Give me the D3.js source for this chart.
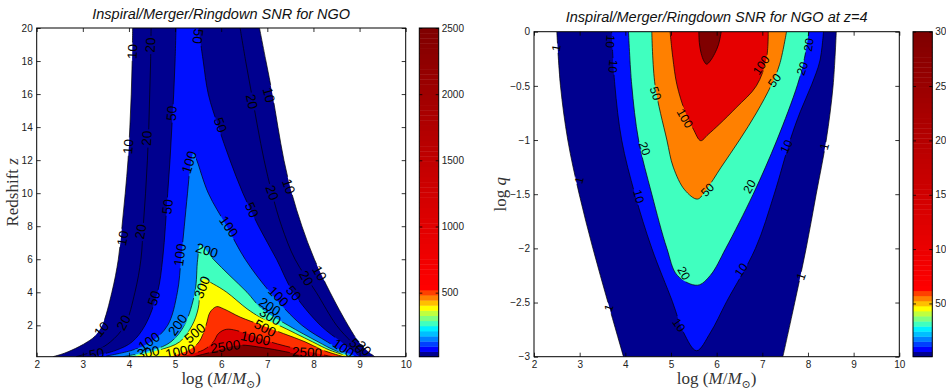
<!DOCTYPE html>
<html>
<head>
<meta charset="utf-8">
<script src="https://cdn.jsdelivr.net/npm/d3@7"></script>
<style>
  body { margin: 0; background: #fff; }
  svg { display: block; }
</style>
</head>
<body>
<svg id="chart" width="946" height="389"></svg>
<script>
// ---- tick labels
const massTicks = [2, 3, 4, 5, 6, 7, 8, 9, 10];
const zTicks = [2, 4, 6, 8, 10, 12, 14, 16, 18, 20];
const qTicks = [0, -0.5, -1, -1.5, -2, -2.5, -3];
const snrBarTicks = [500, 1000, 1500, 2000, 2500];
const qBarTicks = [50, 100, 150, 200, 250, 300];

// ---- left panel: SNR contours in (log M, z), each a list of segments
const snrC10 = [
  [[2.35, 0.1], [2.6, 0.31], [2.92, 0.71], [3.1, 1], [3.25, 1.31], [3.42, 2], [3.63, 4], [3.77, 6], [3.85, 8], [3.92, 10], [3.98, 12], [4.02, 14], [4.05, 16], [4.07, 18], [4.08, 20]],
  [[6.83, 20], [6.97, 18], [7.11, 16], [7.23, 14], [7.36, 12], [7.53, 10], [7.75, 8], [8.02, 6], [8.36, 4], [8.75, 2], [8.98, 1], [9.15, 0.5], [9.33, 0.1]]
];
const snrC20 = [
  [[2.85, 0.1], [3.31, 0.5], [3.6, 1], [3.91, 2], [4.13, 4], [4.26, 6], [4.31, 8], [4.36, 10], [4.4, 12], [4.43, 14], [4.45, 16], [4.47, 18], [4.48, 20]],
  [[6.41, 20], [6.53, 18], [6.66, 16], [6.79, 14], [6.93, 12], [7.1, 10], [7.31, 8], [7.6, 6], [8.06, 4], [8.5, 2], [8.82, 1], [8.99, 0.5], [9.17, 0.1]]
];
const snrC50 = [
  [[3.2, 0.1], [3.73, 0.5], [4.07, 1], [4.35, 2], [4.62, 4], [4.73, 6], [4.79, 8], [4.84, 10], [4.89, 12], [4.93, 14], [4.97, 16], [5.0, 18], [5.02, 20]],
  [[5.51, 20], [5.61, 18], [5.72, 16], [5.94, 14], [6.19, 12], [6.47, 10], [6.81, 8], [7.2, 6], [7.56, 4], [8.15, 2], [8.6, 1], [8.83, 0.5], [9.02, 0.1]]
];
const snrC100 = [
  [[3.43, 0.1], [4.08, 0.5], [4.48, 1], [4.84, 2], [5.05, 4], [5.13, 6], [5.2, 8], [5.27, 10], [5.33, 11.6], [5.4, 12.45], [5.47, 12], [5.72, 10], [6.12, 8], [6.52, 6], [7.06, 4], [7.75, 2], [8.3, 1], [8.6, 0.5], [8.94, 0.1]]
];
const snrC200 = [
  [[3.87, 0.1], [4.52, 0.5], [4.91, 1], [5.2, 2], [5.43, 4], [5.49, 6], [5.55, 6.86], [5.83, 6], [6.19, 5], [6.56, 4], [6.88, 3], [7.45, 2], [8.1, 1], [8.45, 0.5], [8.87, 0.1]]
];
const snrC300 = [
  [[4.08, 0.1], [4.66, 0.5], [5.1, 1], [5.37, 2], [5.5, 3], [5.54, 4], [5.6, 4.79], [5.83, 4.5], [6.12, 4], [6.56, 3], [6.84, 2.5], [7.25, 2], [7.98, 1], [8.35, 0.5], [8.8, 0.1]]
];
const snrC500 = [
  [[4.9, 0.1], [5.3, 0.5], [5.52, 1], [5.67, 2], [5.76, 2.8], [5.9, 3.13], [6.05, 3], [6.41, 2.5], [6.88, 2], [7.35, 1.5], [7.82, 1], [8.2, 0.5], [8.65, 0.1]]
];
const snrC1000 = [
  [[5.1, 0.1], [5.61, 0.5], [5.83, 1], [5.94, 1.5], [6.12, 1.76], [6.56, 1.5], [7.06, 1], [7.75, 0.5], [8.4, 0.1]]
];
const snrC2500 = [
  [[5.4, 0.1], [5.75, 0.35], [6.05, 0.6], [6.4, 0.8], [6.9, 0.65], [7.4, 0.4], [7.9, 0.1]]
];
const snrContours = [snrC10, snrC20, snrC50, snrC100, snrC200, snrC300, snrC500, snrC1000, snrC2500];

// contour labels: [text, log M, z, angle]
const snrLabels = [
  ['10', 4.08, 18.57, -88], ['20', 4.47, 18.97, -88], ['50', 5.49, 19.5, 97],
  ['10', 3.99, 12.82, -85], ['20', 4.39, 13.32, -87], ['50', 4.93, 14.83, -85],
  ['10', 3.87, 7.27, -80], ['20', 4.26, 7.67, -80], ['50', 4.84, 9.18, -83],
  ['100', 5.31, 11.87, -72], ['100', 5.11, 6.26, -82], ['200', 5.69, 6.52, 18],
  ['300', 5.59, 4.3, -68], ['50', 4.55, 3.64, -72], ['10', 3.41, 1.76, -50],
  ['20', 3.89, 2.16, -62], ['100', 4.44, 1.01, -35], ['200', 5.06, 2.02, -55],
  ['500', 5.43, 1.52, -40], ['50', 3.3, 0.27, -10], ['1000', 5.11, 0.41, -12],
  ['300', 4.42, 0.35, -10], ['2500', 6.09, 0.71, -8], ['1000', 6.74, 1.21, 12],
  ['500', 6.95, 1.82, 28], ['300', 7.06, 2.53, 32], ['200', 7.05, 3.13, 32],
  ['100', 7.24, 3.74, 45], ['50', 7.57, 3.94, 50], ['20', 7.84, 4.85, 60],
  ['10', 8.13, 5.15, 60], ['100', 6.16, 7.97, 55], ['50', 6.66, 8.98, 65],
  ['20', 7.1, 10.03, 70], ['10', 7.46, 10.4, 70], ['50', 5.98, 14.13, 70],
  ['20', 6.66, 15.54, 78], ['10', 7.03, 15.94, 75], ['2500', 7.86, 0.35, 3],
  ['100', 8.65, 0.61, 35], ['50', 8.94, 0.75, 45], ['20', 9.09, 0.6, 45]
];

// ---- right panel: SNR contours at z=4 in (log M, log q)
const qC1 = [
  [[2.5, 0], [2.58, -0.5], [2.74, -1], [2.99, -1.5], [3.29, -2], [3.62, -2.5], [3.96, -3]],
  [[7.45, -3], [7.71, -2.5], [7.96, -2], [8.18, -1.5], [8.4, -1], [8.55, -0.5], [8.62, 0]]
];
const qC10 = [
  [[3.7, 0], [3.77, -0.49], [3.92, -1], [4.21, -1.5], [4.58, -2], [5.03, -2.49], [5.28, -2.78], [5.56, -2.945], [5.86, -2.78], [6.22, -2.49], [6.85, -2], [7.26, -1.5], [7.61, -1], [7.83, -0.74], [8.08, -0.49], [8.26, -0.27], [8.34, 0]]
];
const qC20 = [
  [[4.07, 0], [4.14, -0.49], [4.29, -1], [4.58, -1.5], [4.91, -2], [5.14, -2.25], [5.58, -2.34], [5.86, -2.25], [6.2, -2], [6.8, -1.5], [7.32, -1], [7.77, -0.49], [7.92, -0.25], [8.02, 0]]
];
const qC50 = [
  [[4.58, 0], [4.65, -0.49], [4.91, -1], [5.05, -1.25], [5.3, -1.46], [5.58, -1.545], [5.77, -1.46], [6.1, -1.25], [6.5, -1], [6.87, -0.75], [7.2, -0.49], [7.38, -0.3], [7.53, 0]]
];
const qC100 = [
  [[4.98, 0], [5.04, -0.24], [5.13, -0.49], [5.31, -0.74], [5.49, -0.9], [5.65, -1.006], [5.81, -0.95], [6.07, -0.85], [6.43, -0.7], [6.87, -0.5], [7.09, -0.25], [7.13, 0]]
];
const qCTop = [
  [[5.61, 0], [5.62, -0.1], [5.66, -0.2], [5.72, -0.27], [5.78, -0.3], [5.86, -0.27], [5.96, -0.2], [6.04, -0.12], [6.1, 0]]
];
const qContours = [qC1, qC10, qC20, qC50, qC100, qCTop];

const qLabels = [
  ['1', 2.49, -0.15, -80], ['1', 2.99, -1.37, -75], ['1', 3.64, -2.55, -70],
  ['1', 8.36, -1.06, -75], ['1', 7.85, -2.26, -70],
  ['10', 3.67, -0.09, 95], ['10', 3.73, -0.32, 95], ['50', 4.66, -0.57, 72],
  ['100', 5.3, -0.8, 60], ['20', 4.42, -1.08, 70], ['10', 4.29, -1.52, 75],
  ['50', 5.8, -1.46, -45], ['20', 5.28, -2.23, 60], ['10', 5.17, -2.71, 55],
  ['100', 6.98, -0.31, -55], ['50', 7.27, -0.45, -55], ['20', 8.02, -0.12, -80],
  ['20', 7.88, -0.34, -70], ['10', 7.53, -1.06, -65], ['20', 6.72, -1.43, -60],
  ['10', 6.54, -2.2, -55]
];

// ---- styles
const sans = '"Liberation Sans", Arial, sans-serif';
const serif = '"Liberation Serif", "DejaVu Serif", serif';
const snrFills = ['#00008f', '#00008f', '#0010ff', '#0080ff', '#40ffbf', '#ffff00', '#ff3000', '#dc0000', '#800000'];
const qFills = ['#00008f', '#0010ff', '#40ffbf', '#ff8000', '#e60000', '#800000'];
const cmapLow = ['#00008f', '#0000ff', '#0040ff', '#0080ff', '#00bfff', '#00f0ff', '#40ffbf', '#80ff80', '#bfff40', '#ffff00', '#ffbf00', '#ff8000', '#ff4000'];
const cmap = cmapLow.concat(d3.range(51).map(i => d3.interpolateRgb('#ff0000', '#800000')(i / 50)));

const svg = d3.select('#chart');
const defs = svg.append('defs');

function styleAxis(g, showText) {
  g.select('.domain').remove();
  g.selectAll('line').attr('stroke', '#000').attr('stroke-width', 0.8);
  g.selectAll('text')
    .attr('font-family', sans)
    .attr('font-size', 10).attr('fill', '#222');
  if (!showText) g.selectAll('text').remove();
}

function drawPanel(cfg) {
  const x = d3.scaleLinear().domain(cfg.xDomain).range([cfg.left, cfg.right]);
  const y = d3.scaleLinear().domain(cfg.yDomain).range([cfg.bottom, cfg.top]);
  const line = d3.line().x(d => x(d[0])).y(d => y(d[1])).curve(d3.curveCatmullRom.alpha(0.5));

  defs.append('clipPath').attr('id', cfg.id + '-clip')
    .append('rect').attr('x', cfg.left).attr('y', cfg.top)
    .attr('width', cfg.right - cfg.left).attr('height', cfg.bottom - cfg.top);

  // mask that breaks the contour lines under their labels
  const mask = defs.append('mask').attr('id', cfg.id + '-mask')
    .attr('maskUnits', 'userSpaceOnUse').attr('x', 0).attr('y', 0).attr('width', 946).attr('height', 389);
  mask.append('rect').attr('width', 946).attr('height', 389).attr('fill', '#fff');
  mask.selectAll('rect.hole').data(cfg.labels).join('rect')
    .attr('class', 'hole')
    .attr('x', d => -d[0].length * cfg.labelSize * 0.3 - 1)
    .attr('y', -cfg.labelSize * 0.4)
    .attr('width', d => d[0].length * cfg.labelSize * 0.6 + 2)
    .attr('height', cfg.labelSize * 0.8)
    .attr('transform', d => `translate(${x(d[1])},${y(d[2])}) rotate(${d[3]})`)
    .attr('fill', '#000');

  const plot = svg.append('g').attr('clip-path', `url(#${cfg.id}-clip)`);

  plot.selectAll('path.fill').data(cfg.contours).join('path')
    .attr('class', 'fill')
    .attr('d', segs => segs.map((s, i) => { const p = line(s); return i ? 'L' + p.slice(1) : p; }).join('') + 'Z')
    .attr('fill', (d, i) => cfg.fills[i]);

  plot.append('g').attr('mask', `url(#${cfg.id}-mask)`)
    .selectAll('path').data(cfg.contours.flat()).join('path')
    .attr('d', line)
    .attr('fill', 'none').attr('stroke', '#000').attr('stroke-width', 0.7);

  plot.selectAll('text.clabel').data(cfg.labels).join('text')
    .attr('class', 'clabel')
    .attr('transform', d => `translate(${x(d[1])},${y(d[2])}) rotate(${d[3]})`)
    .attr('text-anchor', 'middle').attr('dominant-baseline', 'central')
    .attr('font-family', sans)
    .attr('font-size', cfg.labelSize).attr('fill', '#000')
    .text(d => d[0]);

  // axes with inward ticks on all sides
  svg.append('g').attr('transform', `translate(0,${cfg.bottom})`)
    .call(d3.axisBottom(x).tickValues(massTicks).tickSize(-4).tickPadding(4))
    .call(g => styleAxis(g, true));
  svg.append('g').attr('transform', `translate(0,${cfg.top})`)
    .call(d3.axisTop(x).tickValues(massTicks).tickSize(-4))
    .call(g => styleAxis(g, false));
  svg.append('g').attr('transform', `translate(${cfg.left},0)`)
    .call(d3.axisLeft(y).tickValues(cfg.yTicks).tickSize(-4).tickPadding(4).tickFormat(d3.format('~g')))
    .call(g => styleAxis(g, true));
  svg.append('g').attr('transform', `translate(${cfg.right},0)`)
    .call(d3.axisRight(y).tickValues(cfg.yTicks).tickSize(-4))
    .call(g => styleAxis(g, false));

  svg.append('rect')
    .attr('x', cfg.left).attr('y', cfg.top)
    .attr('width', cfg.right - cfg.left).attr('height', cfg.bottom - cfg.top)
    .attr('fill', 'none').attr('stroke', '#000').attr('stroke-width', 1);

  // title
  svg.append('text')
    .attr('x', (cfg.left + cfg.right) / 2).attr('y', cfg.titleY)
    .attr('text-anchor', 'middle').attr('font-family', sans)
    .attr('font-size', 14.5).attr('font-style', 'italic')
    .attr('fill', '#111').text(cfg.title);

  // x label: log (M/M_sun)
  const xl = svg.append('text')
    .attr('x', (cfg.left + cfg.right) / 2).attr('y', 384)
    .attr('text-anchor', 'middle').attr('font-size', 17)
    .attr('font-family', serif).attr('fill', '#333');
  xl.append('tspan').text('log (');
  xl.append('tspan').attr('font-style', 'italic').text('M');
  xl.append('tspan').text('/');
  xl.append('tspan').attr('font-style', 'italic').text('M');
  xl.append('tspan').attr('font-size', 11).attr('dy', 4).text('⊙');
  xl.append('tspan').attr('dy', -4).text(')');

  // y label
  const yl = svg.append('text')
    .attr('transform', `translate(${cfg.yLabelX},${(cfg.top + cfg.bottom) / 2}) rotate(-90)`)
    .attr('text-anchor', 'middle').attr('font-size', 17)
    .attr('font-family', serif).attr('fill', '#333');
  yl.append('tspan').text(cfg.yLabel[0]);
  yl.append('tspan').attr('font-style', 'italic').text(cfg.yLabel[1]);

  // colorbar
  const cy = d3.scaleLinear().domain(cfg.barDomain).range([cfg.bottom, cfg.top]);
  const band = d3.scaleBand().domain(d3.range(cmap.length)).range([cfg.bottom, cfg.top]);
  svg.append('g').selectAll('rect').data(cmap).join('rect')
    .attr('x', cfg.barLeft).attr('width', cfg.barRight - cfg.barLeft)
    .attr('y', (d, i) => band(i))
    .attr('height', band.bandwidth() + 0.4)
    .attr('fill', d => d);
  svg.append('g').attr('transform', `translate(${cfg.barRight},0)`)
    .call(d3.axisRight(cy).tickValues(cfg.barTicks).tickSize(-3).tickPadding(3).tickFormat(d3.format('d')))
    .call(g => styleAxis(g, true));
  svg.append('g').attr('transform', `translate(${cfg.barLeft},0)`)
    .call(d3.axisLeft(cy).tickValues(cfg.barTicks).tickSize(-3))
    .call(g => styleAxis(g, false));
  svg.append('rect')
    .attr('x', cfg.barLeft).attr('y', cfg.top)
    .attr('width', cfg.barRight - cfg.barLeft).attr('height', cfg.bottom - cfg.top)
    .attr('fill', 'none').attr('stroke', '#000').attr('stroke-width', 1);
}

drawPanel({
  id: 'snr', left: 36.7, right: 405.7, top: 28, bottom: 356.7,
  xDomain: [2, 10], yDomain: [0.1, 20], yTicks: zTicks,
  contours: snrContours, fills: snrFills, labels: snrLabels, labelSize: 13.5,
  title: 'Inspiral/Merger/Ringdown SNR for NGO', titleY: 19,
  yLabel: ['Redshift ', 'z'], yLabelX: 18,
  barLeft: 419.3, barRight: 438.7, barDomain: [16, 2500], barTicks: snrBarTicks
});

drawPanel({
  id: 'q', left: 534, right: 899.3, top: 31.7, bottom: 356.7,
  xDomain: [2, 10], yDomain: [-3, 0], yTicks: qTicks,
  contours: qContours, fills: qFills, labels: qLabels, labelSize: 12,
  title: 'Inspiral/Merger/Ringdown SNR for NGO at z=4', titleY: 22,
  yLabel: ['log ', 'q'], yLabelX: 506,
  barLeft: 913, barRight: 932.3, barDomain: [1, 300], barTicks: qBarTicks
});
</script>
</body>
</html>
